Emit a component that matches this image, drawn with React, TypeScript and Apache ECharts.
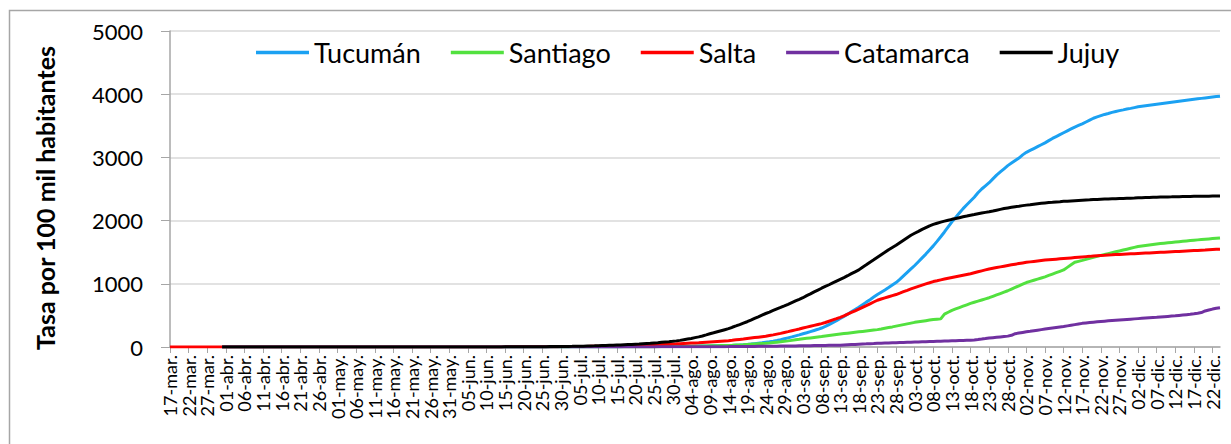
import React, { useEffect, useRef } from "react";
import * as echarts from "echarts";

const monthAbbr = ["ene.", "feb.", "mar.", "abr.", "may.", "jun.", "jul.", "ago.", "sep.", "oct.", "nov.", "dic."];
const dayCount = 283; // 17-mar. .. 24-dic.
const categories: string[] = Array.from({ length: dayCount }, (_, i) => {
  const dt = new Date(Date.UTC(2020, 2, 17 + i));
  return String(dt.getUTCDate()).padStart(2, "0") + "-" + monthAbbr[dt.getUTCMonth()];
});

const yTicks = [0, 1000, 2000, 3000, 4000, 5000];
const seriesNames = ["Tucumán", "Santiago", "Salta", "Catamarca", "Jujuy"];
const seriesColors = ["#1ba1f2", "#52e13f", "#ff0000", "#7030a0", "#000000"];

const N = null;
const tucuman = [
  N, N, N, N, N, N, N, N, N, N, N, N, N, N, 0, 0, 0, 0.1, 0.1, 0.1,
  0.1, 0.2, 0.2, 0.2, 0.3, 0.3, 0.3, 0.3, 0.4, 0.4,
  0.4, 0.4, 0.5, 0.5, 0.5, 0.5, 0.5, 0.6, 0.6, 0.6,
  0.6, 0.6, 0.6, 0.6, 0.6, 0.6, 0.6, 0.7, 0.7, 0.7,
  0.7, 0.7, 0.7, 0.7, 0.7, 0.7, 0.7, 0.7, 0.7, 0.7,
  0.7, 0.7, 0.7, 0.7, 0.7, 0.8, 0.8, 0.8, 0.8, 0.8,
  0.8, 0.8, 0.8, 0.8, 0.8, 0.8, 0.8, 0.9, 0.9, 0.9,
  0.9, 0.9, 0.9, 0.9, 1.0, 1.0, 1.0, 1.0, 1.1, 1.1,
  1.1, 1.2, 1.2, 1.2, 1.3, 1.3, 1.4, 1.4, 1.5, 1.6,
  1.7, 1.8, 1.9, 2.0, 2.1, 2.2, 2.4, 2.5, 2.7, 2.9,
  3.0, 3.2, 3.4, 3.6, 3.8, 4.0, 4.3, 4.6, 4.9, 5.2,
  5.5, 5.8, 6.1, 6.4, 6.7, 7.0, 7.3, 7.6, 7.9, 8.2,
  8.5, 8.8, 9.1, 9.5, 9.9, 10.3, 10.7, 11.1, 11.5, 12,
  12.5, 13, 14, 15, 16, 17, 18, 19, 20, 21,
  22, 25, 28, 31, 35, 40, 46, 53, 60, 67,
  75, 83, 92, 102, 115, 130, 145, 160, 176, 192,
  210, 226, 244, 262, 280, 300, 325, 355, 385, 415,
  450, 485, 520, 558, 594, 630, 670, 710, 748, 790,
  830, 866, 902, 940, 980, 1020, 1070, 1125, 1180, 1235,
  1290, 1350, 1410, 1470, 1535, 1600, 1672, 1745, 1820, 1900,
  1980, 2050, 2120, 2190, 2250, 2310, 2370, 2440, 2500, 2550,
  2600, 2660, 2720, 2770, 2820, 2870, 2910, 2950, 2990, 3040,
  3080, 3110, 3140, 3170, 3200, 3230, 3265, 3300, 3330, 3360,
  3390, 3420, 3450, 3480, 3505, 3530, 3560, 3590, 3620, 3640,
  3660, 3680, 3695, 3712, 3726, 3740, 3752, 3765, 3776, 3788,
  3800, 3808, 3816, 3824, 3832, 3840, 3848, 3856, 3864, 3872,
  3880, 3888, 3896, 3904, 3912, 3920, 3927, 3934, 3941, 3948,
  3955, 3962, 3968,
];

const santiago = [
  N, N, N, N, N, N, N, N, N, N, N, N, N, N, 0, 0, 0, 0, 0, 0.1,
  0.1, 0.1, 0.1, 0.1, 0.1, 0.1, 0.1, 0.1, 0.1, 0.1,
  0.1, 0.1, 0.1, 0.1, 0.1, 0.2, 0.2, 0.2, 0.2, 0.2,
  0.2, 0.2, 0.2, 0.2, 0.2, 0.2, 0.2, 0.2, 0.2, 0.2,
  0.2, 0.2, 0.2, 0.2, 0.2, 0.3, 0.3, 0.3, 0.3, 0.3,
  0.3, 0.3, 0.3, 0.3, 0.3, 0.3, 0.3, 0.3, 0.3, 0.3,
  0.3, 0.3, 0.3, 0.3, 0.3, 0.4, 0.4, 0.4, 0.4, 0.4,
  0.4, 0.4, 0.5, 0.5, 0.5, 0.5, 0.6, 0.6, 0.6, 0.7,
  0.7, 0.7, 0.8, 0.8, 0.9, 0.9, 1.0, 1.0, 1.1, 1.1,
  1.2, 1.3, 1.4, 1.5, 1.6, 1.7, 1.8, 1.9, 2.0, 2.1,
  2.2, 2.3, 2.4, 2.5, 2.6, 2.7, 2.8, 2.9, 3.0, 3.2,
  3.4, 3.6, 3.8, 4.0, 4.2, 4.4, 4.6, 4.8, 5.0, 5.2,
  5.4, 5.8, 6.2, 6.6, 7.0, 7.5, 8.0, 8.8, 9.6, 10.5,
  11.5, 12.5, 13.5, 15, 16.5, 18, 19.5, 21, 22.5, 24,
  25, 27, 30, 33, 36, 40, 44, 48, 52, 56,
  60, 65, 71, 77, 83, 90, 97, 105, 113, 121,
  130, 137, 144, 151, 158, 165, 173, 181, 189, 197,
  205, 212, 219, 226, 233, 240, 247, 254, 261, 268,
  275, 285, 296, 307, 318, 330, 342, 354, 366, 378,
  390, 399, 408, 417, 426, 435, 440, 445, 520, 550,
  580, 602, 624, 646, 668, 690, 708, 726, 744, 762,
  780, 802, 824, 846, 868, 890, 916, 942, 968, 994,
  1020, 1038, 1056, 1074, 1092, 1110, 1132, 1154, 1176, 1198,
  1220, 1260, 1300, 1340, 1355, 1370, 1386, 1402, 1418, 1434,
  1450, 1464, 1478, 1492, 1506, 1520, 1534, 1548, 1562, 1576,
  1590, 1598, 1606, 1614, 1622, 1630, 1636, 1642, 1648, 1654,
  1660, 1666, 1672, 1678, 1684, 1690, 1695, 1700, 1705, 1710,
  1715, 1720, 1725,
];

const salta = [
  0.1, 0.1, 0.1, 0.1, 0.2, 0.2, 0.2, 0.2, 0.3, 0.3,
  0.3, 0.4, 0.4, 0.4, 0.4, 0.5, 0.5, 0.5, 0.5, 0.5,
  0.5, 0.5, 0.5, 0.5, 0.5, 0.5, 0.6, 0.6, 0.6, 0.6,
  0.6, 0.6, 0.6, 0.6, 0.6, 0.6, 0.6, 0.6, 0.6, 0.6,
  0.6, 0.6, 0.6, 0.6, 0.6, 0.6, 0.7, 0.7, 0.7, 0.7,
  0.7, 0.7, 0.7, 0.7, 0.7, 0.7, 0.7, 0.7, 0.7, 0.7,
  0.7, 0.7, 0.7, 0.8, 0.8, 0.8, 0.8, 0.8, 0.8, 0.8,
  0.8, 0.8, 0.9, 0.9, 0.9, 0.9, 1.0, 1.0, 1.0, 1.1,
  1.1, 1.2, 1.2, 1.3, 1.4, 1.5, 1.6, 1.7, 1.8, 1.9,
  2.0, 2.2, 2.4, 2.6, 2.8, 3.0, 3.2, 3.4, 3.6, 3.8,
  4, 4.4, 4.8, 5.2, 5.6, 6, 6.4, 6.8, 7.2, 7.6,
  8, 8.7, 9.5, 10.3, 11, 12, 13, 14, 15, 16.5,
  18, 19.5, 21, 22.5, 24, 26, 28, 30, 32, 34,
  36, 38, 40, 43, 45, 48, 50, 53, 56, 59,
  62, 65, 68, 72, 76, 80, 84, 88, 92, 96,
  100, 106, 113, 120, 127, 135, 142, 149, 156, 163,
  170, 181, 192, 204, 216, 230, 243, 257, 271, 285,
  300, 314, 328, 342, 356, 370, 388, 408, 428, 448,
  470, 494, 520, 546, 572, 600, 628, 656, 684, 712,
  740, 760, 778, 796, 813, 830, 852, 875, 897, 920,
  940, 960, 980, 998, 1016, 1035, 1048, 1062, 1075, 1088,
  1100, 1112, 1124, 1136, 1148, 1160, 1175, 1190, 1205, 1220,
  1235, 1246, 1257, 1268, 1279, 1290, 1300, 1310, 1320, 1330,
  1340, 1347, 1354, 1361, 1368, 1375, 1380, 1385, 1390, 1395,
  1400, 1405, 1410, 1415, 1420, 1425, 1430, 1434, 1439, 1444,
  1448, 1451, 1455, 1458, 1462, 1465, 1468, 1471, 1474, 1477,
  1480, 1483, 1486, 1489, 1492, 1495, 1498, 1501, 1504, 1507,
  1510, 1513, 1516, 1519, 1522, 1525, 1528, 1532, 1535, 1539,
  1542, 1545, 1548,
];

const catamarca = [
  N, N, N, N, N, N, N, N, N, N, N, N, N, N, 0, 0, 0, 0, 0, 0,
  0, 0, 0, 0, 0, 0, 0, 0, 0, 0,
  0, 0, 0, 0, 0, 0, 0, 0, 0, 0,
  0, 0, 0, 0, 0, 0, 0, 0, 0, 0,
  0, 0, 0, 0, 0, 0, 0, 0, 0, 0,
  0, 0, 0, 0, 0, 0, 0, 0, 0, 0,
  0, 0, 0, 0, 0, 0, 0, 0, 0, 0,
  0, 0, 0, 0, 0, 0, 0, 0, 0, 0,
  0, 0, 0, 0, 0, 0, 0, 0, 0, 0.1,
  0.1, 0.1, 0.1, 0.1, 0.1, 0.1, 0.1, 0.1, 0.1, 0.1,
  0.2, 0.2, 0.3, 0.3, 0.4, 0.4, 0.5, 0.5, 0.6, 0.7,
  0.8, 0.9, 1.0, 1.1, 1.2, 1.3, 1.4, 1.5, 1.6, 1.7,
  1.8, 2.0, 2.2, 2.4, 2.6, 2.8, 3.0, 3.2, 3.4, 3.6,
  3.8, 4.0, 4.2, 4.4, 4.6, 4.8, 5.0, 5.2, 5.4, 5.6,
  6, 6.5, 7, 7.5, 8, 8.5, 9, 9.5, 10, 10.5,
  11, 11.8, 12.6, 13.4, 14.2, 15, 15.8, 16.6, 17.4, 18.2,
  19, 20, 21, 22, 23, 24, 25, 26, 27, 28,
  29, 32, 35, 38, 41, 45, 48, 50, 53, 55,
  58, 60, 62, 64, 66, 68, 70, 72, 74, 76,
  78, 80, 82, 84, 86, 88, 90, 92, 94, 96,
  98, 100, 102, 104, 106, 108, 112, 118, 125, 133,
  142, 148, 154, 160, 166, 172, 185, 210, 220, 230,
  240, 248, 257, 266, 275, 284, 292, 300, 308, 316,
  324, 334, 344, 354, 364, 374, 380, 386, 392, 398,
  404, 409, 414, 419, 424, 429, 433, 437, 441, 445,
  449, 453, 457, 461, 465, 469, 474, 479, 484, 489,
  494, 500, 506, 512, 518, 526, 535, 545, 570, 585,
  600, 612, 620,
];

const jujuy = [
  N, N, N, N, N, N, N, N, N, N, N, N, N, N, 0, 0, 0.1, 0.1, 0.1, 0.3,
  0.3, 0.4, 0.4, 0.4, 0.4, 0.5, 0.5, 0.5, 0.6, 0.6,
  0.6, 0.6, 0.7, 0.7, 0.7, 0.7, 0.7, 0.7, 0.8, 0.8,
  0.8, 0.8, 0.8, 0.8, 0.8, 0.8, 0.8, 0.8, 0.8, 0.8,
  0.8, 0.8, 0.8, 0.8, 0.9, 0.9, 0.9, 0.9, 0.9, 0.9,
  0.9, 0.9, 0.9, 0.9, 0.9, 0.9, 0.9, 0.9, 1.0, 1.0,
  1.0, 1.0, 1.0, 1.0, 1.1, 1.1, 1.1, 1.1, 1.2, 1.2,
  1.2, 1.2, 1.3, 1.3, 1.4, 1.4, 1.5, 1.6, 1.7, 1.8,
  2.0, 2.2, 2.4, 2.6, 2.9, 3.2, 3.5, 3.8, 4.2, 4.6,
  5, 5.5, 6, 6.5, 7, 8, 8.5, 9.5, 10, 11,
  12, 13.5, 15, 16.5, 18, 20, 22, 24, 26, 28,
  30, 32, 35, 38, 41, 45, 48, 52, 56, 60,
  65, 69, 74, 79, 84, 90, 97, 105, 115, 125,
  135, 148, 160, 175, 192, 210, 225, 242, 258, 274,
  290, 312, 333, 355, 378, 400, 425, 452, 478, 505,
  530, 552, 578, 603, 626, 650, 675, 702, 728, 753,
  780, 812, 840, 872, 901, 930, 958, 985, 1014, 1042,
  1070, 1098, 1128, 1160, 1190, 1220, 1262, 1300, 1342, 1380,
  1420, 1460, 1498, 1540, 1575, 1610, 1650, 1690, 1730, 1768,
  1800, 1830, 1862, 1890, 1918, 1940, 1958, 1976, 1992, 2006,
  2020, 2032, 2046, 2060, 2072, 2085, 2096, 2108, 2120, 2130,
  2140, 2152, 2165, 2178, 2190, 2200, 2210, 2220, 2228, 2237,
  2245, 2252, 2260, 2268, 2274, 2280, 2285, 2290, 2296, 2300,
  2305, 2308, 2312, 2316, 2319, 2322, 2325, 2328, 2332, 2335,
  2338, 2340, 2342, 2344, 2346, 2348, 2350, 2353, 2355, 2357,
  2360, 2362, 2364, 2366, 2368, 2370, 2372, 2373, 2375, 2376,
  2378, 2379, 2380, 2381, 2383, 2384, 2385, 2386, 2387, 2387,
  2388, 2389, 2390,
];

const seriesData = [tucuman, santiago, salta, catamarca, jujuy];
const yTitle = "Tasa por 100 mil habitantes";

export default function App() {
  const ref = useRef<HTMLDivElement>(null);
  useEffect(() => {
    if (!ref.current) return;
    const chart = echarts.init(ref.current, null, { renderer: "svg" });
    const font = "Lato";
    chart.setOption({
      animation: false,
      backgroundColor: "#ffffff",
      textStyle: { fontFamily: font },
      grid: { left: 170, right: 11, top: 31, bottom: 97, containLabel: false },
      legend: {
        data: seriesNames.map((name) => ({ name, icon: "rect" })),
        left: 256,
        top: 39,
        padding: 0,
        itemWidth: 53,
        itemHeight: 3.5,
        itemGap: 30,
        textStyle: { fontFamily: font, fontSize: 27, color: "#000" },
      },
      xAxis: {
        type: "category",
        data: categories,
        boundaryGap: false,
        axisLine: { show: true, lineStyle: { color: "#a6a6a6", width: 1.5 } },
        axisTick: { show: true, interval: 4, length: 6, lineStyle: { color: "#a6a6a6" } },
        axisLabel: {
          interval: 4,
          rotate: 90,
          margin: 8,
          fontFamily: font,
          fontSize: 18,
          color: "#000",
        },
        splitLine: { show: false },
      },
      yAxis: {
        type: "value",
        min: yTicks[0],
        max: yTicks[yTicks.length - 1],
        interval: yTicks[1] - yTicks[0],
        axisLine: { show: true, lineStyle: { color: "#a6a6a6", width: 1.5 } },
        axisTick: { show: true, length: 9, lineStyle: { color: "#a6a6a6" } },
        axisLabel: {
          margin: 27,
          fontFamily: font,
          fontSize: 22,
          color: "#000",
          formatter: (v: number) => String(v),
        },
        splitLine: { show: true, lineStyle: { color: "#d9d9d9", width: 1.5 } },
      },
      graphic: [
        {
          type: "rect",
          silent: true,
          shape: { x: 9.5, y: 10.5, width: 1260, height: 480 },
          style: { fill: "none", stroke: "#a6a6a6", lineWidth: 1.5 },
        },
        {
          type: "text",
          silent: true,
          x: 45,
          y: 198,
          rotation: Math.PI / 2,
          style: {
            text: yTitle,
            fontFamily: font,
            fontWeight: "bold",
            fontSize: 25,
            fill: "#000",
            align: "center",
            verticalAlign: "middle",
          },
        },
      ],
      series: seriesNames.map((name, k) => ({
        name,
        type: "line",
        data: seriesData[k],
        showSymbol: false,
        symbol: "none",
        smooth: false,
        z: 2 + k,
        lineStyle: { color: seriesColors[k], width: 3 },
        itemStyle: { color: seriesColors[k] },
      })),
    });
    return () => chart.dispose();
  }, []);
  return (
    <div
      ref={ref}
      style={{ position: "fixed", left: 0, top: 0, width: 1231, height: 444, background: "#fff" }}
    />
  );
}
